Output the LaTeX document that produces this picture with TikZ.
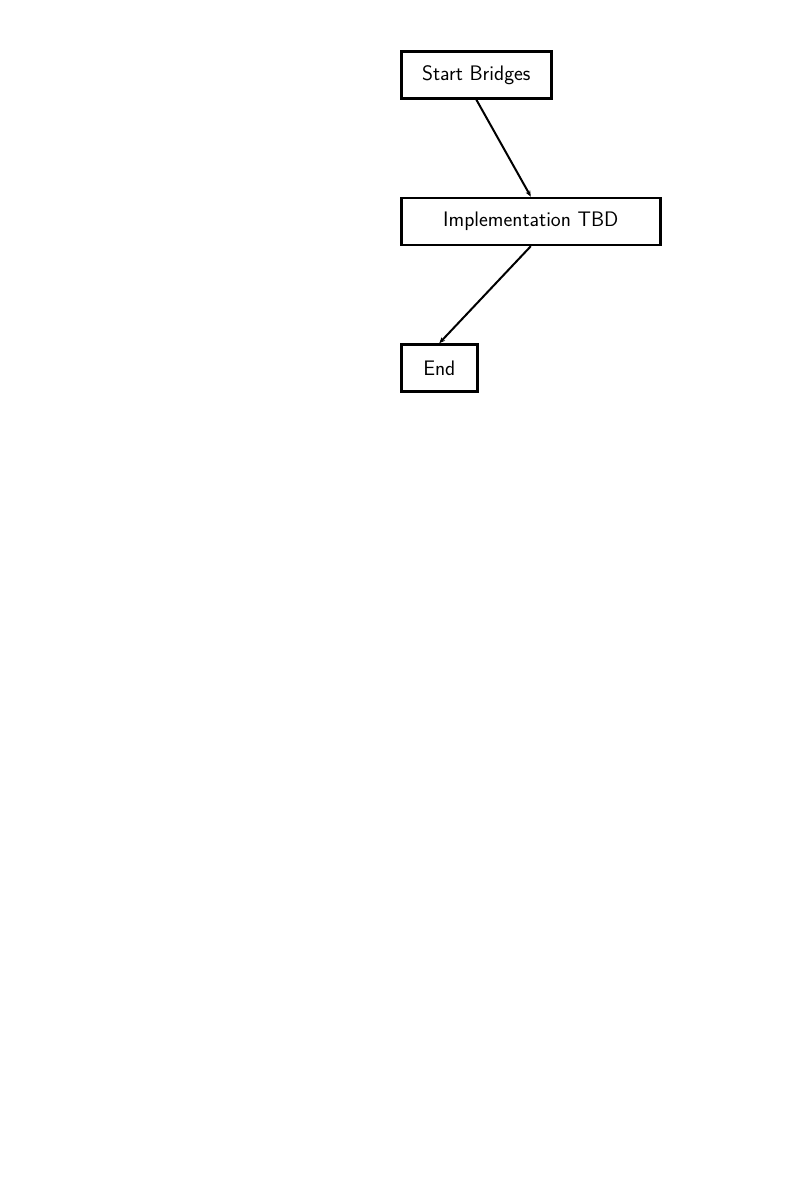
\documentclass[tikz,border=0pt]{standalone}
\usepackage{fontspec}
\usepackage{tikz}
\usetikzlibrary{arrows.meta, positioning}

\begin{document}
\begin{tikzpicture}[
  x=1pt, y=1pt,
  node distance=97pt,
  stepbox/.style={rectangle, draw=black, line width=2.6pt, minimum height=47pt,
                  inner sep=0pt, font=\sffamily\fontsize{21}{23}\selectfont\addfontfeatures{LetterSpace=14}},
  flow/.style={-{Stealth[length=6pt,width=5pt]}, line width=2pt, black},
]
\useasboundingbox (0,0) rectangle (800,-1200);

% Nodes
\node[stepbox, minimum width=150pt, anchor=north west] (start) at (400,-50) {Start Bridges};
\node[stepbox, minimum width=259pt, below=of start.south west, anchor=north west] (impl) {Implementation TBD};
\node[stepbox, minimum width=76pt, below=of impl.south west, anchor=north west] (end) {End};

% Edges
\draw[flow] (start.south) -- (impl.north);
\draw[flow] (impl.south) -- (end.north);

\end{tikzpicture}
\end{document}
